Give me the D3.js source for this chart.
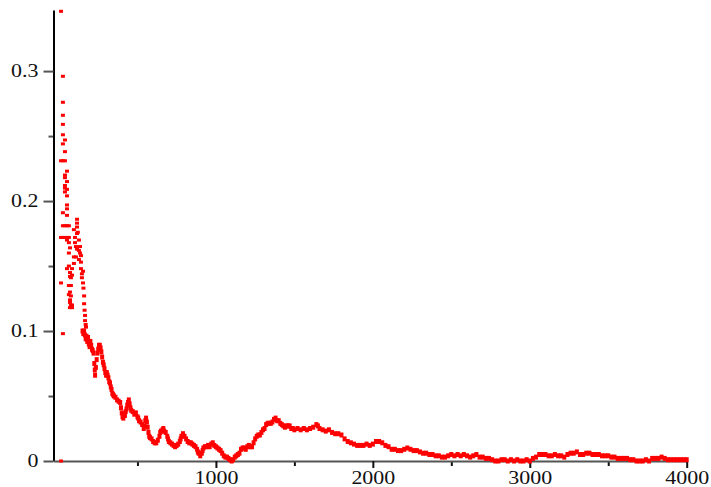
<!DOCTYPE html>
<html>
<head>
<meta charset="utf-8">
<script src="https://cdn.jsdelivr.net/npm/d3@7"></script>
<style>
  body { margin: 0; background: #fff; }
  svg { display: block; }
  .lbl { font-family: "Liberation Serif", "Times New Roman", "DejaVu Serif", serif; }
</style>
</head>
<body>
<script>
// early scatter, n small (x, value)
const earlyX = [13, 25, 25, 25, 25, 25, 38, 25, 38, 13, 25, 38, 51, 38, 38, 51, 38, 38, 51, 38, 51, 51, 51, 25, 51,
  115, 115, 115, 25, 38, 51, 63, 95, 115, 13, 25, 38, 51, 63, 102, 51, 63, 102, 108, 115, 127, 134, 70, 63, 95,
  108, 127, 140, 95, 51, 83, 140, 153, 146, 70, 83, 76, 13, 146, 153, 63, 70, 76, 70, 76, 70, 83, 63, 63, 70, 70,
  76, 83, 120, 127, 134, 140, 13, 25, 156, 160, 160, 163, 166, 166, 170, 172];
const earlyY = [0.346, 0.296, 0.276, 0.266, 0.259, 0.251, 0.247, 0.244, 0.238, 0.231, 0.231, 0.231, 0.223, 0.220, 0.218,
  0.215, 0.212, 0.210, 0.209, 0.207, 0.204, 0.197, 0.194, 0.191, 0.189,
  0.186, 0.183, 0.180, 0.181, 0.181, 0.181, 0.181, 0.178, 0.175, 0.172, 0.172, 0.172, 0.172, 0.172, 0.172, 0.170,
  0.168, 0.168, 0.165, 0.163, 0.162, 0.160, 0.164, 0.160, 0.157, 0.157, 0.155, 0.153, 0.152, 0.148, 0.148, 0.148,
  0.146, 0.144, 0.145, 0.143, 0.141, 0.137, 0.141, 0.137, 0.150, 0.142, 0.135, 0.130, 0.127, 0.124, 0.120, 0.128,
  0.135, 0.118, 0.122, 0.120, 0.118, 0.176, 0.170, 0.165, 0.158, 0.000, 0.098, 0.133, 0.127, 0.121, 0.116, 0.112,
  0.108, 0.105, 0.103];

// main curve (x, value)
const curveX = [150, 155, 160, 165, 170, 175, 180, 185, 190, 195, 200, 205, 210, 215, 220, 225, 228, 230, 235, 240,
  245, 250, 255, 260, 265, 270, 275, 280, 285, 290, 295, 300, 305, 310, 315, 320, 325, 330, 335, 340, 345, 350, 360,
  370, 380, 390, 395, 400, 405, 410, 415, 420, 425, 430, 435, 440, 445, 450, 455, 460, 470, 480, 490, 500, 505, 510,
  520, 530, 540, 545, 550, 555, 560, 565, 570, 575, 580, 590, 600, 610, 620, 630, 640, 645, 650, 660, 665, 670, 680,
  690, 695, 700, 710, 720, 730, 740, 750, 760, 770, 775, 780, 790, 800, 810, 820, 830, 840, 850, 860, 870, 880, 885,
  890, 900, 910, 915, 920, 930, 940, 950, 960, 970, 980, 990, 1000, 1010, 1020, 1030, 1040, 1050, 1060, 1070, 1080,
  1090, 1100, 1110, 1120, 1130, 1140, 1150, 1160, 1170, 1180, 1190, 1200, 1210, 1220, 1230, 1240, 1250, 1260, 1270,
  1280, 1290, 1300, 1310, 1320, 1330, 1340, 1350, 1360, 1370, 1380, 1390, 1400, 1410, 1420, 1430, 1440, 1450, 1460,
  1470, 1480, 1490, 1500, 1520, 1540, 1560, 1580, 1600, 1620, 1640, 1650, 1660, 1680, 1700, 1720, 1740, 1760, 1780,
  1800, 1820, 1840, 1860, 1880, 1900, 1920, 1940, 1960, 1980, 2000, 2020, 2040, 2060, 2080, 2100, 2120, 2140, 2160,
  2180, 2200, 2220, 2240, 2260, 2280, 2300, 2320, 2340, 2360, 2380, 2400, 2420, 2440, 2460, 2480, 2500, 2520, 2540,
  2560, 2580, 2600, 2620, 2640, 2660, 2680, 2700, 2720, 2740, 2760, 2780, 2800, 2820, 2840, 2860, 2880, 2900, 2920,
  2940, 2960, 2980, 3000, 3020, 3040, 3060, 3080, 3100, 3120, 3140, 3160, 3180, 3200, 3220, 3240, 3260, 3280, 3300,
  3320, 3340, 3360, 3380, 3400, 3420, 3440, 3460, 3480, 3500, 3520, 3540, 3560, 3580, 3600, 3620, 3640, 3660, 3680,
  3700, 3720, 3740, 3760, 3780, 3800, 3820, 3840, 3860, 3880, 3900, 3920, 3940, 3960, 3980, 4000];
const curveY = [0.100, 0.098, 0.100, 0.097, 0.094, 0.096, 0.092, 0.095, 0.090, 0.088, 0.092, 0.089, 0.086, 0.085, 0.083,
  0.075, 0.070, 0.066, 0.072, 0.078, 0.083, 0.086, 0.089, 0.089, 0.087, 0.084, 0.080, 0.076, 0.074, 0.071, 0.068,
  0.066, 0.068, 0.066, 0.064, 0.061, 0.060, 0.057, 0.055, 0.052, 0.051, 0.050, 0.049, 0.047, 0.046, 0.045, 0.041,
  0.037, 0.034, 0.033, 0.036, 0.035, 0.038, 0.040, 0.043, 0.045, 0.047, 0.044, 0.041, 0.039, 0.038, 0.036, 0.037,
  0.034, 0.033, 0.031, 0.030, 0.028, 0.025, 0.027, 0.031, 0.033, 0.030, 0.026, 0.022, 0.019, 0.018, 0.017, 0.015,
  0.014, 0.014, 0.016, 0.019, 0.022, 0.023, 0.024, 0.025, 0.023, 0.022, 0.019, 0.017, 0.015, 0.014, 0.013, 0.012,
  0.011, 0.012, 0.013, 0.015, 0.017, 0.019, 0.021, 0.019, 0.017, 0.015, 0.014, 0.014, 0.013, 0.012, 0.011, 0.009,
  0.007, 0.006, 0.004, 0.006, 0.008, 0.010, 0.011, 0.011, 0.012, 0.011, 0.013, 0.014, 0.012, 0.011, 0.010, 0.009,
  0.008, 0.006, 0.004, 0.003, 0.003, 0.002, 0.001, 0.000, 0.001, 0.003, 0.004, 0.005, 0.006, 0.009, 0.010, 0.010,
  0.009, 0.011, 0.012, 0.011, 0.011, 0.014, 0.017, 0.019, 0.020, 0.020, 0.022, 0.024, 0.025, 0.028, 0.029, 0.029,
  0.029, 0.030, 0.032, 0.033, 0.031, 0.031, 0.029, 0.028, 0.027, 0.026, 0.027, 0.027, 0.027, 0.025, 0.025, 0.024,
  0.025, 0.024, 0.025, 0.024, 0.025, 0.026, 0.028, 0.027, 0.025, 0.024, 0.023, 0.024, 0.022, 0.021, 0.021, 0.020,
  0.017, 0.015, 0.014, 0.013, 0.012, 0.012, 0.012, 0.013, 0.012, 0.013, 0.015, 0.015, 0.014, 0.012, 0.011, 0.009,
  0.009, 0.008, 0.008, 0.009, 0.010, 0.009, 0.008, 0.008, 0.007, 0.006, 0.006, 0.005, 0.005, 0.004, 0.004, 0.003,
  0.003, 0.004, 0.005, 0.004, 0.005, 0.004, 0.005, 0.004, 0.003, 0.004, 0.005, 0.003, 0.003, 0.002, 0.002, 0.001,
  0.000, 0.000, 0.001, 0.001, 0.000, 0.001, 0.000, 0.001, 0.000, 0.000, 0.001, 0.000, 0.002, 0.003, 0.005, 0.005,
  0.005, 0.004, 0.004, 0.005, 0.004, 0.004, 0.003, 0.005, 0.006, 0.006, 0.007, 0.005, 0.005, 0.006, 0.006, 0.005,
  0.005, 0.005, 0.004, 0.004, 0.004, 0.003, 0.003, 0.002, 0.002, 0.002, 0.002, 0.001, 0.001, 0.000, 0.000, 0.000,
  0.001, 0.000, 0.002, 0.002, 0.002, 0.003, 0.002, 0.001, 0.001, 0.001, 0.001, 0.001, 0.001, 0.001];

const yTicks = [0, 0.1, 0.2, 0.3];
const yMinor = [0.05, 0.15, 0.25];
const xTicks = [1000, 2000, 3000, 4000];
const xMinor = [500, 1500, 2500, 3500];

let width = 711;
let height = 487;

let svg = d3.select("body")
    .append("svg")
    .attr("width", width)
    .attr("height", height);

let scaleX = d3.scaleLinear()
    .domain([-35, 4000])
    .range([53.5, 686.7]);
let scaleY = d3.scaleLinear()
    .domain([0, 0.347])
    .range([461, 10]);

const stretch = 1.22;
const serif = '"Liberation Serif", "Times New Roman", "DejaVu Serif", serif';

// minor ticks
svg.append("g")
    .attr("transform", `translate(${scaleX(-35)}, 0)`)
    .call(d3.axisLeft(scaleY).tickValues(yMinor).tickSize(5).tickFormat("").tickSizeOuter(0))
    .call(g => g.select(".domain").remove())
    .call(g => g.selectAll("line").attr("stroke", "#555").attr("stroke-width", 2));
svg.append("g")
    .attr("transform", `translate(0, ${scaleY(0)})`)
    .call(d3.axisBottom(scaleX).tickValues(xMinor).tickSize(5).tickFormat("").tickSizeOuter(0))
    .call(g => g.select(".domain").remove())
    .call(g => g.selectAll("line").attr("stroke", "#111").attr("stroke-width", 2));

// y axis
svg.append("g")
    .attr("transform", `translate(${scaleX(-35)}, 0)`)
    .attr("font-family", serif)
    .call(d3.axisLeft(scaleY).tickValues(yTicks).tickSize(10).tickSizeOuter(0)
        .tickFormat(d => d === 0 ? "0" : d3.format(".1f")(d)))
    .attr("font-family", serif)
    .call(g => g.select(".domain").attr("stroke", "#000").attr("stroke-width", 2))
    .call(g => g.selectAll(".tick line").attr("stroke", "#555").attr("stroke-width", 2))
    .call(g => g.selectAll(".tick text")
        .attr("class", "lbl")
        .attr("x", -15 / stretch)
        .attr("dy", "0.32em")
        .attr("transform", `scale(${stretch},1)`)
        .attr("fill", "#111")
        .style("font-size", "18px"));

// x axis
svg.append("g")
    .attr("transform", `translate(0, ${scaleY(0)})`)
    .call(d3.axisBottom(scaleX).tickValues(xTicks).tickSize(7).tickSizeOuter(0).tickFormat(d3.format("d")))
    .attr("font-family", serif)
    .call(g => g.select(".domain").attr("stroke", "#555").attr("stroke-width", 2))
    .call(g => g.selectAll(".tick line").attr("stroke", "#111").attr("stroke-width", 2))
    .call(g => g.selectAll(".tick text")
        .attr("class", "lbl")
        .attr("y", 23)
        .attr("dy", 0)
        .attr("transform", `scale(${stretch},1)`)
        .attr("fill", "#111")
        .style("font-size", "18px"));

// points
let early = earlyX.map((x, i) => ({ x: x, y: earlyY[i] }));
let curve = curveX.map((x, i) => ({ x: x, y: curveY[i] }));

svg.append("g")
    .selectAll("rect")
    .data(early)
    .enter()
    .append("rect")
    .attr("x", d => scaleX(d.x) - 2)
    .attr("y", d => scaleY(d.y) - 1.5)
    .attr("width", 4)
    .attr("height", 3)
    .attr("fill", "#ff0000");

svg.append("g")
    .selectAll("rect")
    .data(curve)
    .enter()
    .append("rect")
    .attr("x", d => scaleX(d.x) - 2)
    .attr("y", d => scaleY(d.y) - 2.5)
    .attr("width", 4)
    .attr("height", 5)
    .attr("fill", "#ff0000");
</script>
</body>
</html>
